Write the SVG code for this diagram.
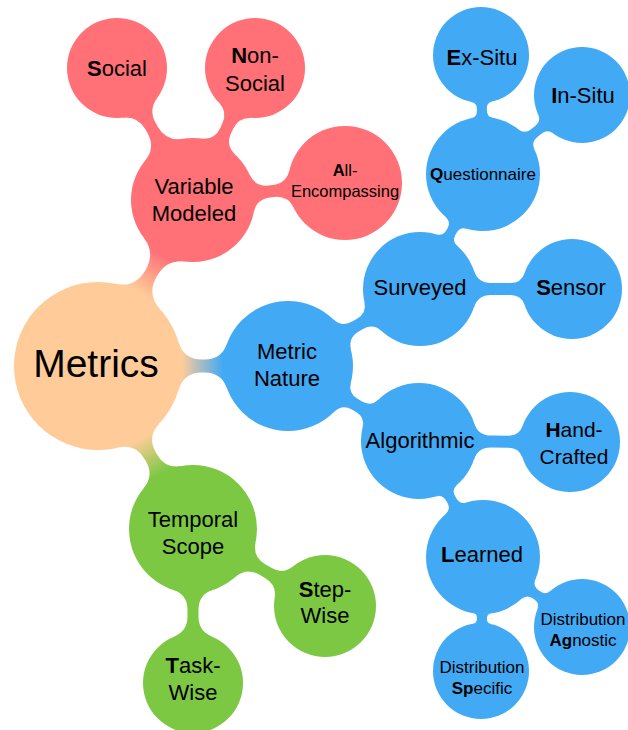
<svg xmlns="http://www.w3.org/2000/svg" width="628" height="730" viewBox="0 0 628 730">
<style>
.red{fill:#FF7077}
.blue{fill:#42A9F4}
.green{fill:#7CC843}
.orange{fill:#FFCC99}
text{font-family:"Liberation Sans",Arial,sans-serif;font-size:22px;fill:#000;text-anchor:middle}
.sm{font-size:17px}
.b{font-weight:bold}
</style>
<defs>
<linearGradient id="gMV" gradientUnits="userSpaceOnUse" x1="84" y1="0" x2="129" y2="0"><stop offset="0" stop-color="#FFCC99"/><stop offset="1" stop-color="#FF7077"/></linearGradient>
<linearGradient id="gMN" gradientUnits="userSpaceOnUse" x1="84" y1="0" x2="125" y2="0"><stop offset="0" stop-color="#FFCC99"/><stop offset="1" stop-color="#42A9F4"/></linearGradient>
<linearGradient id="gMT" gradientUnits="userSpaceOnUse" x1="84" y1="0" x2="125" y2="0"><stop offset="0" stop-color="#FFCC99"/><stop offset="1" stop-color="#7CC843"/></linearGradient>
</defs>
<g id="connectors">
<path fill="url(#gMV)" transform="translate(98,366) rotate(-60.2)" d="M79.88,26 Q86.22,6.5 106.73,6.5 L107.81,6.5 Q126.79,6.5 134.13,24 L134.13,-24 Q126.79,-6.5 107.81,-6.5 L106.73,-6.5 Q86.22,-6.5 79.88,-26 Z"/>
<path fill="url(#gMN)" transform="translate(98,366)" d="M80.5,24 Q85.72,6.5 103.98,6.5 L106.79,6.5 Q123.26,6.5 128.83,22 L128.83,-22 Q123.26,-6.5 106.79,-6.5 L103.98,-6.5 Q85.72,-6.5 80.5,-24 Z"/>
<path fill="url(#gMT)" transform="translate(98,366) rotate(59.8)" d="M80.5,24 Q85.72,6.5 103.98,6.5 L106.42,6.5 Q122.93,6.5 128.6,22 L128.6,-22 Q122.93,-6.5 106.42,-6.5 L103.98,-6.5 Q85.72,-6.5 80.5,-24 Z"/>
<path class="red" transform="translate(193,200) rotate(-119.9)" d="M57.97,22 Q64.04,6 81.15,6 L85.08,6 Q100.36,6 106.47,20 L106.47,-20 Q100.36,-6 85.08,-6 L81.15,-6 Q64.04,-6 57.97,-22 Z"/>
<path class="red" transform="translate(193,200) rotate(-64.8)" d="M59.02,19 Q63.2,6 76.86,6 L81.66,6 Q94.52,6 99.15,18 L99.15,-18 Q94.52,-6 81.66,-6 L76.86,-6 Q63.2,-6 59.02,-19 Z"/>
<path class="red" transform="translate(193,200) rotate(-6.4)" d="M59.02,19 Q63.2,6 76.86,6 L80.87,6 Q94.66,6 99.26,19 L99.26,-19 Q94.66,-6 80.87,-6 L76.86,-6 Q63.2,-6 59.02,-19 Z"/>
<path class="blue" transform="translate(288,366) rotate(-30.3)" d="M62.46,18 Q65.92,6 78.41,6 L83.44,6 Q94.96,6 98.39,17 L98.39,-17 Q94.96,-6 83.44,-6 L78.41,-6 Q65.92,-6 62.46,-18 Z"/>
<path class="blue" transform="translate(288,366) rotate(29.8)" d="M62.74,17 Q65.72,6 77.12,6 L81.88,6 Q92.28,6 95.15,16 L95.15,-16 Q92.28,-6 81.88,-6 L77.12,-6 Q65.72,-6 62.74,-17 Z"/>
<path class="blue" transform="translate(420,289) rotate(-61.3)" d="M55.72,12 Q57.23,5 64.39,5 L66.71,5 Q73.87,5 75.38,12 L75.38,-12 Q73.87,-5 66.71,-5 L64.39,-5 Q57.23,-5 55.72,-12 Z"/>
<path class="blue" transform="translate(420,289)" d="M54.08,18 Q58.08,6 70.73,6 L90.69,6 Q101.25,6 104.63,16 L104.63,-16 Q101.25,-6 90.69,-6 L70.73,-6 Q58.08,-6 54.08,-18 Z"/>
<path class="blue" transform="translate(483,174) rotate(-91)" d="M55.93,11 Q57.11,5 63.22,5 L65.88,5 Q70.99,5 72.05,10 L72.05,-10 Q70.99,-5 65.88,-5 L63.22,-5 Q57.11,-5 55.93,-11 Z"/>
<path class="blue" transform="translate(483,174) rotate(-38.6)" d="M55.5,13 Q57.37,5 65.59,5 L71.19,5 Q78.42,5 80.23,12 L80.23,-12 Q78.42,-5 71.19,-5 L65.59,-5 Q57.37,-5 55.5,-13 Z"/>
<path class="blue" transform="translate(419,441) rotate(0.4)" d="M55.14,18 Q59.06,6 71.68,6 L89.69,6 Q100.25,6 103.63,16 L103.63,-16 Q100.25,-6 89.69,-6 L71.68,-6 Q59.06,-6 55.14,-18 Z"/>
<path class="blue" transform="translate(419,441) rotate(61.1)" d="M56.75,12 Q58.22,5 65.37,5 L68.11,5 Q75.27,5 76.78,12 L76.78,-12 Q75.27,-5 68.11,-5 L65.37,-5 Q58.22,-5 56.75,-12 Z"/>
<path class="blue" transform="translate(483,557) rotate(35.3)" d="M55.72,12 Q57.23,5 64.39,5 L66.91,5 Q73.07,5 74.48,11 L74.48,-11 Q73.07,-5 66.91,-5 L64.39,-5 Q57.23,-5 55.72,-12 Z"/>
<path class="blue" transform="translate(483,557) rotate(91)" d="M56.29,9 Q56.92,5 60.97,5 L62.02,5 Q66.09,5 66.85,9 L66.85,-9 Q66.09,-5 62.02,-5 L60.97,-5 Q56.92,-5 56.29,-9 Z"/>
<path class="green" transform="translate(193,529) rotate(30.3)" d="M60.79,20 Q65.4,6 80.14,6 L87.74,6 Q100.56,6 105.08,18 L105.08,-18 Q100.56,-6 87.74,-6 L80.14,-6 Q65.4,-6 60.79,-20 Z"/>
<path class="green" transform="translate(193,529) rotate(90)" d="M60.79,20 Q65.57,5.5 80.83,5.5 L87.62,5.5 Q102.21,5.5 107.75,19 L107.75,-19 Q102.21,-5.5 87.62,-5.5 L80.83,-5.5 Q65.57,-5.5 60.79,-20 Z"/>
</g>
<g id="node-metrics"><circle class="orange" cx="98" cy="366" r="84"/><text x="96" y="377" style="font-size:39px">Metrics</text></g>
<g id="node-variable-modeled"><circle class="red" cx="193" cy="200" r="62"/><text x="194" y="194">Variable</text><text x="194" y="221">Modeled</text></g>
<g id="node-social"><circle class="red" cx="117" cy="68" r="50"/><text x="117" y="76"><tspan class="b">S</tspan>ocial</text></g>
<g id="node-non-social"><circle class="red" cx="255" cy="68" r="50"/><text x="255" y="63"><tspan class="b">N</tspan>on-</text><text x="255" y="91">Social</text></g>
<g id="node-all-encompassing"><circle class="red" cx="345" cy="183" r="57"/><text x="345" y="176" style="font-size:16.5px"><tspan class="b">A</tspan>ll-</text><text x="345" y="197" style="font-size:16.5px">Encompassing</text></g>
<g id="node-metric-nature"><circle class="blue" cx="288" cy="366" r="65"/><text x="287" y="359">Metric</text><text x="287" y="386">Nature</text></g>
<g id="node-surveyed"><circle class="blue" cx="420" cy="289" r="57"/><text x="420" y="295">Surveyed</text></g>
<g id="node-questionnaire"><circle class="blue" cx="483" cy="174" r="57"/><text class="sm" x="483" y="180"><tspan class="b">Q</tspan>uestionnaire</text></g>
<g id="node-ex-situ"><circle class="blue" cx="481" cy="55" r="48"/><text x="482" y="65"><tspan class="b">E</tspan>x-Situ</text></g>
<g id="node-in-situ"><circle class="blue" cx="582" cy="95" r="48"/><text x="583" y="103"><tspan class="b">I</tspan>n-Situ</text></g>
<g id="node-sensor"><circle class="blue" cx="572" cy="289" r="50"/><text x="571" y="295"><tspan class="b">S</tspan>ensor</text></g>
<g id="node-algorithmic"><circle class="blue" cx="419" cy="441" r="58"/><text x="420" y="448">Algorithmic</text></g>
<g id="node-hand-crafted"><circle class="blue" cx="570" cy="442" r="50"/><text x="574" y="437" style="font-size:21px"><tspan class="b">H</tspan>and-</text><text x="574" y="464" style="font-size:21px">Crafted</text></g>
<g id="node-learned"><circle class="blue" cx="483" cy="557" r="57"/><text x="482" y="562"><tspan class="b">L</tspan>earned</text></g>
<g id="node-distribution-agnostic"><circle class="blue" cx="582" cy="627" r="48"/><text class="sm" x="583" y="625">Distribution</text><text class="sm" x="583" y="646"><tspan class="b">Ag</tspan>nostic</text></g>
<g id="node-distribution-specific"><circle class="blue" cx="481" cy="671" r="48"/><text class="sm" x="482" y="673">Distribution</text><text class="sm" x="482" y="694"><tspan class="b">Sp</tspan>ecific</text></g>
<g id="node-temporal-scope"><circle class="green" cx="193" cy="529" r="64"/><text x="193" y="527">Temporal</text><text x="193" y="554">Scope</text></g>
<g id="node-step-wise"><circle class="green" cx="325" cy="606" r="51"/><text x="325" y="597"><tspan class="b">S</tspan>tep-</text><text x="325" y="623">Wise</text></g>
<g id="node-task-wise"><circle class="green" cx="193" cy="683" r="50"/><text x="193" y="673"><tspan class="b">T</tspan>ask-</text><text x="193" y="700">Wise</text></g>
</svg>
